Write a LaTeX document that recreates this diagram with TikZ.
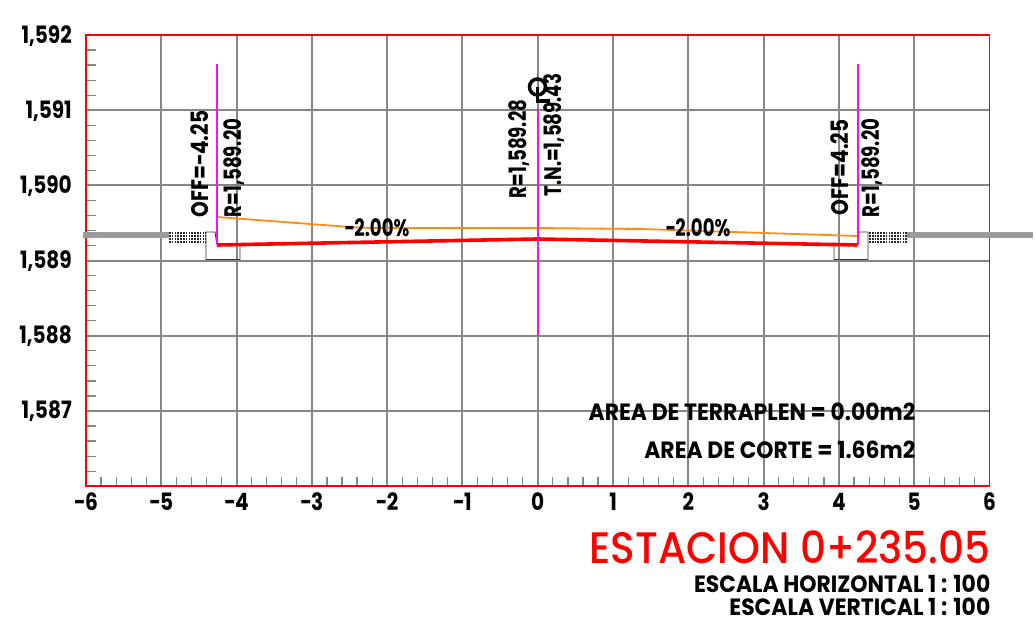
\documentclass[tikz,border=0pt]{standalone}
\usepackage{fontspec}
\setmainfont{Poppins}
\newfontfamily\cadfont[BoldFeatures={FakeStretch=0.93}]{Poppins}
\newfontfamily\numfont[BoldFeatures={FakeStretch=0.84}]{Poppins}
\newfontfamily\narrowfont[BoldFeatures={FakeStretch=0.76}]{Poppins}
\newfontfamily\titlefont[FakeStretch=0.92]{Poppins Medium}
\definecolor{gridgray}{RGB}{135,135,135}
\definecolor{roadgray}{RGB}{155,155,158}
\definecolor{cadred}{RGB}{255,0,0}
\definecolor{cadpink}{RGB}{240,20,240}
\definecolor{cadorange}{RGB}{255,140,20}
\tikzset{x=0.1cm,y=-0.1cm}
\tikzset{gridline/.style={draw=gridgray,line width=0.2mm}}
\tikzset{tickline/.style={draw=gridgray,line width=0.12mm}}
\tikzset{frameline/.style={draw=cadred,line width=0.18mm}}
\tikzset{pinkline/.style={draw=cadpink,line width=0.2mm}}
\tikzset{curbline/.style={draw=black!80,line width=0.09mm}}
\tikzset{roadline/.style={draw=roadgray,line width=0.65mm}}
\tikzset{hatchline/.style={draw=black!85,line width=0.16mm,dash pattern=on 0.17mm off 0.11mm}}
\tikzset{cadtext/.style={font=\cadfont\bfseries\fontsize{6.7pt}{7pt}\selectfont,inner sep=0pt}}
\tikzset{numtext/.style={font=\numfont\bfseries\fontsize{6.8pt}{7pt}\selectfont,inner sep=0pt}}
\tikzset{narrowtext/.style={font=\narrowfont\bfseries\fontsize{6.8pt}{7pt}\selectfont,inner sep=0pt}}
\tikzset{uplabel/.style={numtext,rotate=90,anchor=west}}
\tikzset{upnarrow/.style={narrowtext,rotate=90,anchor=west}}

\begin{document}
\begin{tikzpicture}
\useasboundingbox (0,0) rectangle (103.6,62.4);
% grid
\foreach \i in {1,...,11} {
  \draw[gridline] (8.6+\i*7.529,3.5) -- (8.6+\i*7.529,48.6);
}
\foreach \i in {1,...,5} {
  \draw[gridline] (8.6,3.5+\i*7.52) -- (98.95,3.5+\i*7.52);
}
% ticks
\foreach \i in {1,...,29} {
  \draw[tickline] (8.6,3.5+\i*1.504) -- (9.6,3.5+\i*1.504);
}
\foreach \i in {1,...,59} {
  \draw[tickline] (8.6+\i*1.506,48.6) -- (8.6+\i*1.506,47.7);
}
\draw[frameline] (8.6,3.5) rectangle (98.95,48.6);
% ground
\draw[roadline] (8.3,23.5) -- (16.9,23.5);
\draw[roadline] (90.7,23.5) -- (103.3,23.5);
\foreach \h in {23.3,23.6,23.9,24.2} {
  \draw[hatchline] (16.9,\h) -- (20.6,\h);
  \draw[hatchline] (86.9,\h) -- (90.7,\h);
}
% curbs
\draw[curbline] (21.7,24.5) -- (21.5,23.2) -- (20.6,23.2) -- (20.6,25.95) -- (24,25.95) -- (24,24.35) -- (21.7,24.5);
\draw[curbline] (85.75,24.5) -- (85.9,23.2) -- (86.8,23.2) -- (86.8,25.95) -- (83.4,25.95) -- (83.4,24.3) -- (85.75,24.5);
% section
\draw[cadorange,line width=0.18mm] (21.7,21.7) -- (35,22.7) -- (37,22.8) -- (53.77,22.8) -- (64,22.9) -- (85.75,23.6);
\draw[cadred,line width=0.36mm] (21.7,24.5) -- (53.77,23.9) -- (85.75,24.5);
\draw[pinkline] (21.7,6.4) -- (21.7,24.5) (85.75,6.4) -- (85.75,24.5) (53.77,10.9) -- (53.77,33.6);
\node[draw,circle,line width=0.35mm,minimum size=1.6mm,inner sep=0pt,name=cl] at (53.75,8.7) {};
\draw[line width=0.35mm] (cl.center) -- (53.75,10.1) -- (55,10.1);
% labels
\node[numtext,anchor=east,name=y592] at (7.25,3.6) {1,592};
\node[numtext,anchor=east,name=y591] at (7.25,11.1) {1,591};
\node[numtext,anchor=east,name=y590] at (7.25,18.6) {1,590};
\node[numtext,anchor=east,name=y589] at (7.25,26.1) {1,589};
\node[numtext,anchor=east,name=y588] at (7.25,33.6) {1,588};
\node[numtext,anchor=east,name=y587] at (7.25,41.1) {1,587};
\foreach \v [count=\i from 0] in {−6,−5,−4,−3,−2,−1,0,1,2,3,4,5,6} {
  \node[numtext,name=x\i] at (8.6+\i*7.529,50.2) {\v};
}
\node[uplabel,name=offl] at (20,21.8) {OFF=−4.25};
\node[upnarrow,name=rl] at (23.4,21.8) {R=1,589.20};
\node[upnarrow,name=rc] at (51.9,19.9) {R=1,589.28};
\node[upnarrow,name=tnc] at (55.4,19.7) {T.N.=1,589.43};
\node[uplabel,name=offr] at (84,21.6) {OFF=4.25};
\node[upnarrow,name=rr] at (87.2,21.8) {R=1,589.20};
\node[narrowtext,name=sl] at (37.7,22.8) {−2.00\%};
\node[narrowtext,name=sr] at (69.8,22.8) {−2.00\%};
\node[cadtext,anchor=east,name=fill] at (91.6,41.2) {AREA DE TERRAPLEN = 0.00m2};
\node[cadtext,anchor=east,name=cut] at (91.6,45) {AREA DE CORTE = 1.66m2};
\node[font=\titlefont\fontsize{12.55pt}{14pt}\selectfont,text=cadred,inner sep=0pt,anchor=east,name=title] at (99.1,54.7) {ESTACION 0+235.05};
\node[cadtext,anchor=east,name=hs] at (99.1,58.4) {ESCALA HORIZONTAL 1 : 100};
\node[cadtext,anchor=east,name=vs] at (99.1,60.7) {ESCALA VERTICAL 1 : 100};
\end{tikzpicture}
\end{document}
